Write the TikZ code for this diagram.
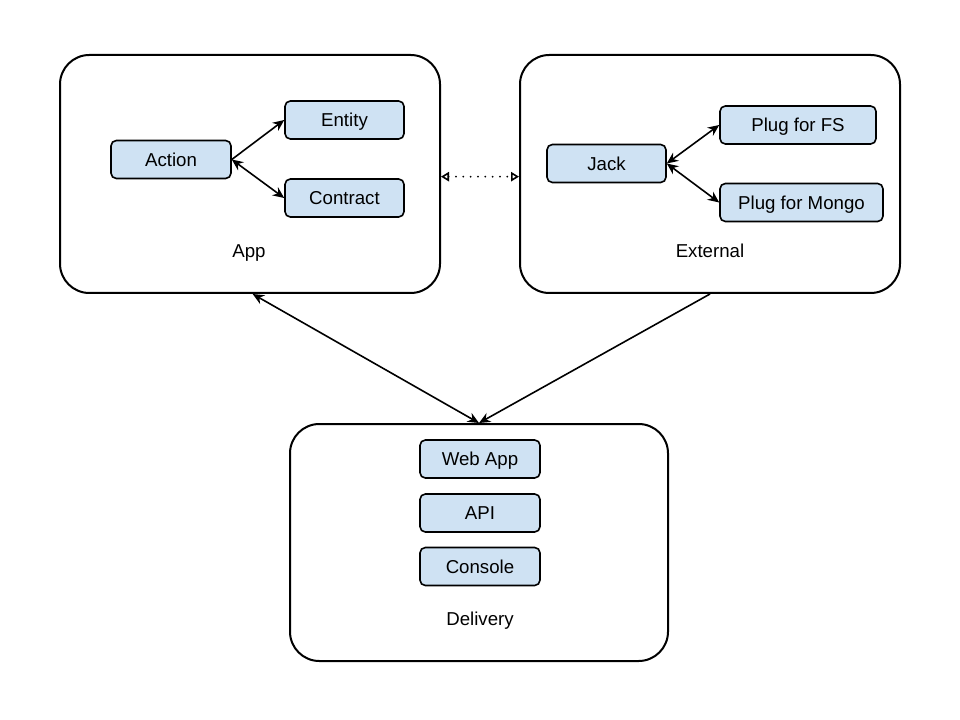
\documentclass[tikz,border=0pt]{standalone}
\usepackage{fontspec}
\setmainfont{Liberation Sans}
\usetikzlibrary{arrows.meta}

\definecolor{boxblue}{HTML}{CFE2F3}
\tikzset{every picture/.style={line width=0.75pt}}
\tikzset{
	layer/.style={draw, line width=1.5pt, rounded corners=22pt, minimum width=285pt, minimum height=178.5pt},
	part/.style={draw, fill=boxblue, line width=1.2pt, rounded corners=4pt, minimum height=28.5pt, inner sep=0pt, text height=10pt, text depth=0pt, font=\fontsize{14}{17}\selectfont},
	caption/.style={inner sep=0pt, text height=10pt, text depth=0pt, font=\fontsize{14}{17}\selectfont},
	link/.style={line width=1.2pt, {Stealth[length=8.5pt,width=7.5pt]}-{Stealth[length=8.5pt,width=7.5pt]}},
	onelink/.style={line width=1.2pt, -{Stealth[length=8.5pt,width=7.5pt]}},
	hint/.style={line width=1.5pt, line cap=round, dash pattern=on 0pt off 5.5pt, {Triangle[open,length=6pt,width=7pt,line cap=butt,line width=1.2pt]}-{Triangle[open,length=6pt,width=7pt,line cap=butt,line width=1.2pt]}}
}

\begin{document}
\begin{tikzpicture}[x=0.75pt,y=0.75pt,yscale=-1,xscale=1]
	\useasboundingbox (0,0) rectangle (960,720);

	%Layers
	\node [layer] (app) at (250,174) {};
	\node [layer] (external) at (710,174) {};
	\node [layer, minimum width=283.5pt, minimum height=177.75pt] (delivery) at (479,542.5) {};

	% App parts
	\node [part, minimum width=90pt] (action) at (171,159.5) {Action};
	\node [part, minimum width=89.25pt] (entity) at (344.5,120) {Entity};
	\node [part, minimum width=89.25pt] (contract) at (344.5,198) {Contract};

	% External parts
	\node [part, minimum width=89.25pt] (jack) at (606.5,163.5) {Jack};
	\node [part, minimum width=117pt] (plugfs) at (798,125) {Plug for FS};
	\node [part, minimum width=122.25pt] (plugmongo) at (801.5,202.5) {Plug for Mongo};

	% Delivery parts
	\node [part, minimum width=90pt] (webapp) at (480,459) {Web App};
	\node [part, minimum width=90pt] (api) at (480,513) {API};
	\node [part, minimum width=90pt] (console) at (480,566.5) {Console};

	% Captions
	\node [caption] (applabel) at (249,251) {App};
	\node [caption] (extlabel) at (710,251) {External};
	\node [caption] (dellabel) at (480,619) {Delivery};

	% Connectors
	\draw [onelink] (action.east) -- (entity.west);
	\draw [link] (action.east) -- (contract.west);
	\draw [link] (jack.east) -- (plugfs.west);
	\draw [link] (jack.east) -- (plugmongo.west);
	\draw [hint] ([yshift=2]app.east) -- ([yshift=2]external.west);
	\draw [link] ([xshift=2]app.south) -- (delivery.north);
	\draw [onelink] (external.south) -- (delivery.north);

\end{tikzpicture}
\end{document}
